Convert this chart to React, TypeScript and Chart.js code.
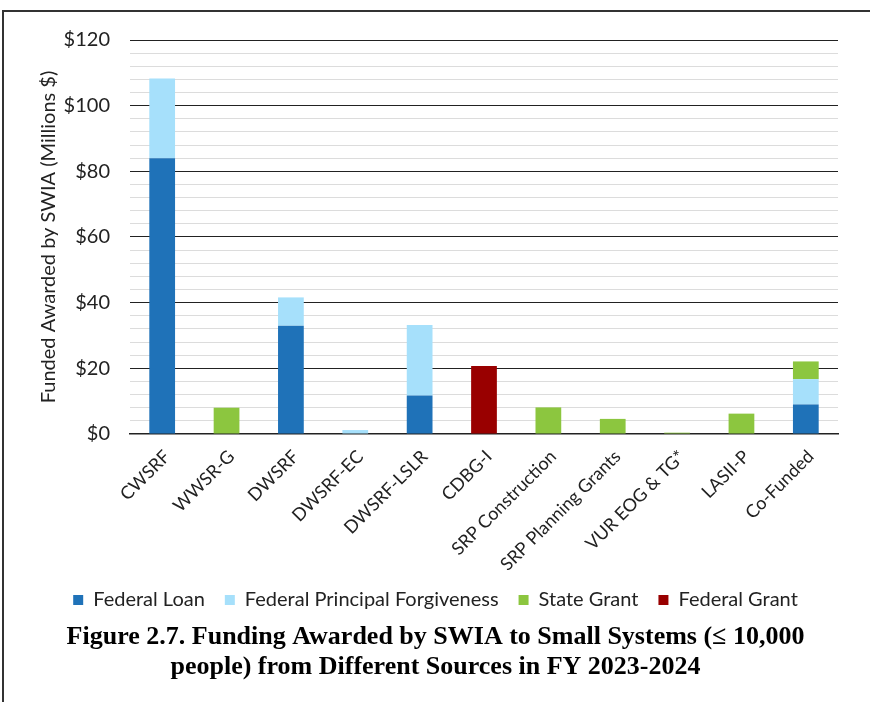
import React, { useEffect, useRef } from 'react';
import { Chart, registerables } from 'chart.js';

Chart.register(...registerables);

const categories = [
  'CWSRF',
  'WWSR-G',
  'DWSRF',
  'DWSRF-EC',
  'DWSRF-LSLR',
  'CDBG-I',
  'SRP Construction',
  'SRP Planning Grants',
  'VUR EOG & TG*',
  'LASII-P',
  'Co-Funded',
];

const federalLoan = [84, null, 33, null, 11.7, null, null, null, null, null, 9];
const federalPrincipalForgiveness = [24.3, null, 8.6, 1.2, 21.5, null, null, null, null, null, 7.7];
const stateGrant = [null, 8, null, null, null, null, 8.1, 4.6, 0.4, 6.2, 5.4];
const federalGrant = [null, null, null, null, null, 20.7, null, null, null, null, null];

const yMin = 0;
const yMax = 120;
const yMinorStep = 4;
const yMajorStep = 20;

const titleLines = [
  'Figure 2.7. Funding Awarded by SWIA to Small Systems (≤ 10,000',
  'people) from Different Sources in FY 2023-2024',
];
const yTitle = 'Funded Awarded by SWIA (Millions $)';

const SANS = 'Lato, "Open Sans", sans-serif';
const SERIF = '"Liberation Serif", "DejaVu Serif", serif';

export default function App() {
  const ref = useRef<HTMLCanvasElement>(null);

  useEffect(() => {
    if (!ref.current) return;
    const chart = new Chart(ref.current, {
      type: 'bar',
      data: {
        labels: categories,
        datasets: [
          { label: 'Federal Loan', data: federalLoan, backgroundColor: '#1F72B8' },
          { label: 'Federal Principal Forgiveness', data: federalPrincipalForgiveness, backgroundColor: '#A6E0FB' },
          { label: 'State Grant', data: stateGrant, backgroundColor: '#8CC63F' },
          { label: 'Federal Grant', data: federalGrant, backgroundColor: '#990000' },
        ],
      },
      options: {
        responsive: false,
        animation: false,
        datasets: { bar: { barPercentage: 0.4, categoryPercentage: 1 } },
        layout: { padding: { left: 33, right: 32, top: 40, bottom: 20 } },
        scales: {
          x: {
            stacked: true,
            grid: { display: false, drawTicks: false },
            border: { display: true, color: '#222', width: 1.5 },
            ticks: {
              maxRotation: 45,
              minRotation: 45,
              autoSkip: false,
              padding: 12,
              labelOffset: 5,
              color: '#222',
              font: { family: SANS, size: 18 },
            },
            afterFit: (s: any) => {
              s.height = 136;
            },
          },
          y: {
            stacked: true,
            min: yMin,
            max: yMax,
            grid: {
              color: (c: any) => (c.tick && c.tick.value % yMajorStep === 0 ? '#222' : '#DCDCDC'),
              lineWidth: 1,
              drawTicks: false,
            },
            border: { display: false },
            ticks: {
              stepSize: yMinorStep,
              autoSkip: false,
              padding: 20,
              color: '#222',
              font: { family: SANS, size: 20 },
              callback: (v: any) => (Number(v) % yMajorStep === 0 ? '$' + v : ''),
            },
            title: {
              display: true,
              text: yTitle,
              color: '#222',
              font: { family: SANS, size: 20 },
              padding: { top: 4, bottom: 4 },
            },
            afterFit: (s: any) => {
              s.width = 97;
            },
          },
        },
        plugins: {
          legend: {
            position: 'bottom',
            labels: {
              boxWidth: 10,
              boxHeight: 10,
              padding: 20,
              color: '#222',
              font: { family: SANS, size: 20 },
            },
          },
          title: {
            display: true,
            position: 'bottom',
            text: titleLines,
            color: '#000',
            font: { family: SERIF, size: 26, weight: 'bold', lineHeight: 1.154 },
            padding: { top: 2, bottom: 0 },
          },
          tooltip: { enabled: false },
        },
      } as any,
    });
    return () => chart.destroy();
  }, []);

  return (
    <div style={{ position: 'fixed', left: 0, top: 0, width: 870, height: 702, background: '#fff' }}>
      <canvas ref={ref} width={870} height={702} style={{ display: 'block', width: 870, height: 702 }} />
      <div
        style={{
          position: 'absolute',
          left: 2,
          top: 10,
          right: 0,
          bottom: 0,
          borderLeft: '2px solid #333',
          borderTop: '2px solid #333',
          pointerEvents: 'none',
        }}
      />
    </div>
  );
}
